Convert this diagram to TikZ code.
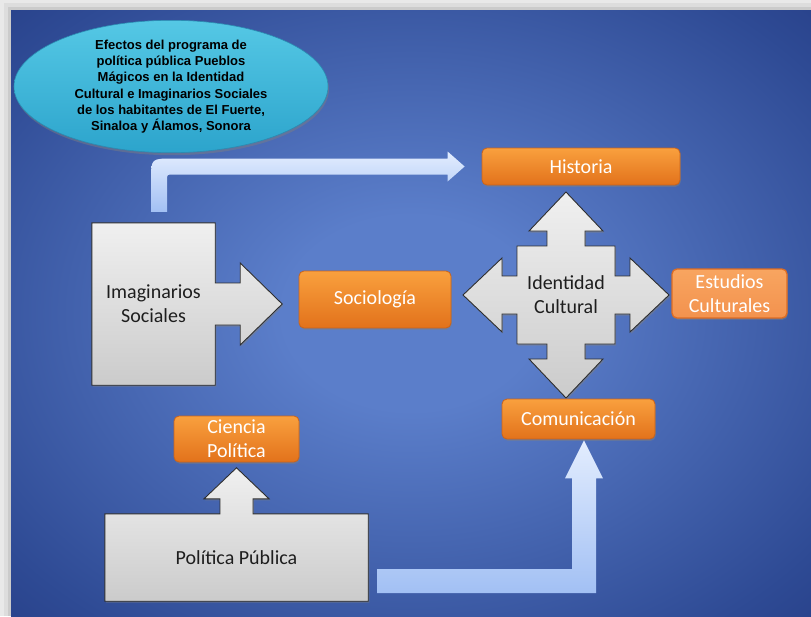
\documentclass[tikz,border=0pt]{standalone}
\usepackage{fontspec}
\setmainfont{Carlito}
\newfontfamily\titlefont{Liberation Sans}
\usetikzlibrary{shapes.geometric,shadows,calc}

\definecolor{framegray}{HTML}{E9E9E9}
\definecolor{bgmid}{HTML}{5B7ECA}
\definecolor{bgedge}{HTML}{2E4A94}
\definecolor{bgcorner}{HTML}{18286D}
\definecolor{orangetop}{HTML}{F9A03E}
\definecolor{orangebot}{HTML}{E2721B}
\definecolor{orangeline}{HTML}{C9631C}
\definecolor{paletop}{HTML}{F8A560}
\definecolor{palebot}{HTML}{F3924E}
\definecolor{paleline}{HTML}{DE6C22}
\definecolor{graytop}{HTML}{F0F0F0}
\definecolor{graybot}{HTML}{CBCBCB}
\definecolor{grayline}{HTML}{2E2E2E}
\definecolor{textdark}{HTML}{1E1E1E}
\definecolor{bandpale}{HTML}{E3EDFE}
\definecolor{bandblue}{HTML}{A2C0F4}
\definecolor{elltop}{HTML}{55C8E5}
\definecolor{ellbot}{HTML}{2CA4CC}
\definecolor{ellline}{HTML}{2A8CB2}

\pgfdeclareradialshading{panelglow}{\pgfpoint{0bp}{0bp}}{color(0bp)=(bgmid); color(8bp)=(bgmid); color(32bp)=(bgedge); color(50bp)=(bgcorner)}

\pgfdeclarelayer{back}
\pgfdeclarelayer{shapes}
\pgfsetlayers{back,shapes,main}

\tikzset{
  titleell/.style={ellipse, minimum width=314, minimum height=119, inner sep=0pt,
    top color=elltop, bottom color=ellbot, draw=ellline, line width=0.6pt, align=center,
    font=\titlefont\bfseries\fontsize{13}{16.3}\selectfont,
    drop shadow={shadow xshift=1pt, shadow yshift=-2.5pt, opacity=0.45}},
  orangebox/.style={rectangle, rounded corners=5pt, draw=orangeline, line width=0.8pt,
    top color=orangetop, bottom color=orangebot, text=white, align=center, inner sep=0pt,
    font=\fontsize{20}{24}\selectfont,
    drop shadow={shadow xshift=0.8pt, shadow yshift=-1.8pt, opacity=0.45}},
  paleorange/.style={orangebox, draw=paleline, line width=1.3pt, top color=paletop, bottom color=palebot},
  labeltext/.style={text=textdark, align=center, inner sep=0pt, font=\fontsize{20}{24}\selectfont},
  grayshape/.style={draw=grayline, line width=0.9pt, top color=graytop, bottom color=graybot,
    drop shadow={shadow xshift=1.2pt, shadow yshift=-1.5pt, opacity=0.5}},
  topband/.style={top color=bandpale, bottom color=bandblue},
  bottomband/.style={top color=bandpale, bottom color=bandblue}
}

\begin{document}
\begin{tikzpicture}[x=1pt,y=-1pt]
  \useasboundingbox (0,0) rectangle (811,616);
  \begin{pgfonlayer}{back}
    \fill[framegray] (0,0) rectangle (811,616);
    \fill[black,opacity=.05] (4,3) rectangle (811,616);
    \fill[black,opacity=.08] (8,7) rectangle (811,616);
    \shade[shading=panelglow] (11,10) rectangle (811,616);
  \end{pgfonlayer}

  % boxes and labels
  \node[titleell] (tema) at (171,86.5) {Efectos del programa de\\pol\'itica p\'ublica Pueblos\\M\'agicos en la Identidad\\Cultural e Imaginarios Sociales\\de los habitantes de El Fuerte,\\Sinaloa y \'Alamos, Sonora};
  \node[labeltext, minimum width=123, minimum height=162] (imag) at (153.5,304) {Imaginarios\\Sociales};
  \node[orangebox, minimum width=152, minimum height=57] (socio) at (375,299.5) {Sociología};
  \node[orangebox, minimum width=198, minimum height=37] (hist) at (581,166.5) {Historia};
  \node[labeltext] (ident) at (566,295) {Identidad\\Cultural};
  \node[paleorange, minimum width=115, minimum height=49] (estud) at (729.5,293.5) {Estudios\\Culturales};
  \node[orangebox, minimum width=153, minimum height=40] (comun) at (578.5,419) {Comunicación};
  \node[orangebox, minimum width=125, minimum height=46] (cienc) at (236.5,439) {Ciencia\\Política};
  \node[labeltext, minimum width=263, minimum height=87] (polit) at (236.5,557.5) {Política Pública};

  \begin{pgfonlayer}{shapes}
    % box with arrow to Sociologia
    \shade[grayshape] (imag.north west) -- (imag.north east) -- ($(imag.east)+(0,-21)$) -- ++(25,0) -- ++(0,-20)
      -- ($(imag.east)+(67,0)$) -- ($(imag.east)+(25,41)$) -- ++(0,-20) -- ($(imag.east)+(0,21)$)
      -- (imag.south east) -- (imag.south west) -- cycle;
    % box with arrow to Ciencia Politica
    \shade[grayshape] (polit.south west) -- (polit.north west) -- ($(polit.north)+(-16.5,0)$) -- ++(0,-15) -- ++(-16,0)
      -- ($(polit.north)+(0,-46)$) -- ($(polit.north)+(32.5,-15)$) -- ++(-16,0) -- ++(0,15)
      -- (polit.north east) -- (polit.south east) -- cycle;
    % four way arrow
    \shade[grayshape, shift={(ident.center)}] (0,-103) -- (37,-64) -- (19,-64) -- (19,-49) -- (49,-49) -- (49,-19)
      -- (64,-19) -- (64,-37) -- (103,0) -- (64,37) -- (64,19) -- (49,19) -- (49,49) -- (19,49) -- (19,64)
      -- (37,64) -- (0,103) -- (-37,64) -- (-19,64) -- (-19,49) -- (-49,49) -- (-49,19) -- (-64,19)
      -- (-64,37) -- (-103,0) -- (-64,-37) -- (-64,-19) -- (-49,-19) -- (-49,-49) -- (-19,-49) -- (-19,-64)
      -- (-37,-64) -- cycle;
  \end{pgfonlayer}

  % bent arrows
  \coordinate (tfoot) at ($(imag.north)+(5.5,-11)$);
  \coordinate (ttip) at ($(hist.west)+(-17,0)$);
  \coordinate (tbend) at (tfoot |- ttip);
  \shade[topband] ($(tfoot)+(-8,0)$) -- ($(tbend)+(-8,14)$) .. controls ($(tbend)+(-8,-8)$) .. ($(tbend)+(14,-8)$)
    -- ($(ttip)+(-17,-8)$) -- ($(ttip)+(-17,-15)$) -- (ttip) -- ($(ttip)+(-17,15)$) -- ($(ttip)+(-17,8)$)
    -- ($(tbend)+(14,8)$) .. controls ($(tbend)+(8,8)$) .. ($(tbend)+(8,14)$) -- ($(tfoot)+(8,0)$) -- cycle;

  \coordinate (bfoot) at ($(polit.east)+(9,23.5)$);
  \coordinate (btip) at ($(comun.south)+(5.5,1)$);
  \coordinate (bbend) at (btip |- bfoot);
  \shade[bottomband] ($(bfoot)+(0,-12)$) -- ($(bbend)+(-12,-12)$) -- ($(btip)+(-12,38)$) -- ($(btip)+(-19,38)$)
    -- (btip) -- ($(btip)+(19,38)$) -- ($(btip)+(12,38)$) -- ($(bbend)+(12,12)$) -- ($(bfoot)+(0,12)$) -- cycle;
\end{tikzpicture}
\end{document}
